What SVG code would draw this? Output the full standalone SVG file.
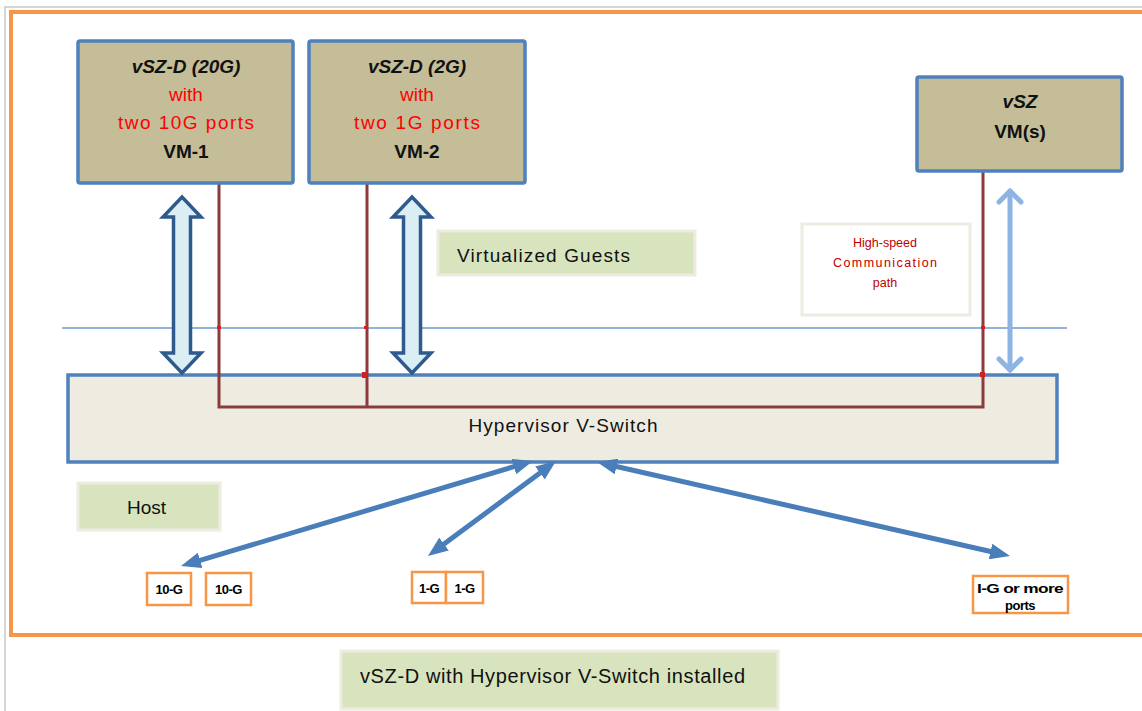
<svg xmlns="http://www.w3.org/2000/svg" width="1142" height="711" viewBox="0 0 1142 711">
<defs>
<style>
text{font-family:"Liberation Sans",Arial,sans-serif;}
.vm{fill:#C4BD97;stroke:#4F81BD;stroke-width:3.5;}
.lbl{fill:#D7E4BD;stroke:#EEECE1;stroke-width:3;}
.port{fill:#FFFFFF;stroke:#F79646;stroke-width:2.5;}
.t{font-size:19px;fill:#111;text-anchor:middle;}
.bi{font-weight:bold;font-style:italic;}
.b{font-weight:bold;}
.red{fill:#FF0000;}
.pt{font-size:13px;font-weight:bold;fill:#000;text-anchor:middle;letter-spacing:-0.5px;}
.brown{stroke:#8C3A3A;stroke-width:3;fill:none;}
.blk{fill:#DBEEF4;stroke:#2F5A8E;stroke-width:3.5;stroke-linejoin:miter;}
.diag{stroke:#4A7EBB;stroke-width:5;fill:none;marker-start:url(#ah);marker-end:url(#ah);}
</style>
<marker id="ah" viewBox="0 0 20 16" refX="8" refY="8" markerWidth="20" markerHeight="16" markerUnits="userSpaceOnUse" orient="auto-start-reverse">
<path d="M0,0 L20,8 L0,16 Z" fill="#4A7EBB"/>
</marker>
</defs>
<rect x="0" y="0" width="1142" height="711" fill="#FFFFFF"/>
<path d="M5,711 L5,7 L1142,7" fill="none" stroke="#C8C8C8" stroke-width="1.5"/>
<path d="M1145,12 L11,12 L11,635 L1145,635" fill="none" stroke="#F79646" stroke-width="4"/>
<line x1="62" y1="328" x2="1067" y2="328" stroke="#6F9AD0" stroke-width="1.3"/>

<g id="hypervisor">
<rect x="68" y="375" width="989" height="87" fill="#EEECE1" stroke="#4F81BD" stroke-width="3.5"/>
<text x="563" y="432" class="t" textLength="189" lengthAdjust="spacing">Hypervisor V-Switch</text>
</g>

<g id="connectors">
<path class="brown" d="M219,183 L219,407 L983,407 L983,171 M367,183 L367,407"/>
<rect x="217" y="326" width="4" height="3" fill="#D02020"/>
<rect x="364" y="326" width="4" height="3" fill="#D02020"/>
<rect x="362" y="372" width="5" height="6" fill="#D02020"/>
<rect x="981" y="326" width="4" height="3" fill="#D02020"/>
<rect x="980" y="372" width="5" height="5" fill="#D02020"/>
<path class="blk" d="M182,197 L201,217 L190.5,217 L190.5,353 L201,353 L182,373 L163,353 L173.5,353 L173.5,217 L163,217 Z"/>
<path class="blk" d="M412,197 L431,217 L420.5,217 L420.5,353 L431,353 L412,373 L393,353 L403.5,353 L403.5,217 L393,217 Z"/>
<g stroke="#8DB4E2" stroke-width="5" fill="none" stroke-linecap="round" stroke-linejoin="round">
<path d="M1010,191 L1010,370"/>
<path d="M999,202 L1010,191 L1021,202"/>
<path d="M999,359 L1010,370 L1021,359"/>
</g>
<path class="diag" d="M521.5,464.4 L192.5,562.6"/>
<path class="diag" d="M546.4,468.2 L437.6,548.8"/>
<path class="diag" d="M608.7,464.7 L998.3,553.3"/>
</g>

<g id="vm1">
<rect class="vm" x="78" y="41" width="215" height="142" rx="2"/>
<text x="186" y="73" class="t bi">vSZ-D (20G)</text>
<text x="186" y="101" class="t red">with</text>
<text x="186" y="129" class="t red" textLength="136" lengthAdjust="spacing">two 10G ports</text>
<text x="186" y="158" class="t b">VM-1</text>
</g>

<g id="vm2">
<rect class="vm" x="309" y="41" width="216" height="142" rx="2"/>
<text x="417" y="73" class="t bi">vSZ-D (2G)</text>
<text x="417" y="101" class="t red">with</text>
<text x="417" y="129" class="t red" textLength="126" lengthAdjust="spacing">two 1G ports</text>
<text x="417" y="158" class="t b">VM-2</text>
</g>

<g id="vsz">
<rect class="vm" x="917" y="77" width="205" height="94" rx="2"/>
<text x="1020" y="108" class="t bi">vSZ</text>
<text x="1020" y="138" class="t b">VM(s)</text>
</g>

<g id="virtualized-guests">
<rect class="lbl" x="438" y="231" width="257" height="44"/>
<text x="457" y="262" font-size="19" fill="#111" textLength="173" lengthAdjust="spacing">Virtualized Guests</text>
</g>

<g id="high-speed">
<rect x="802" y="224" width="168" height="91" fill="#FFFFFF" stroke="#EEECE1" stroke-width="3"/>
<g font-size="12.5" fill="#C00000" text-anchor="middle">
<text x="885" y="247">High-speed</text>
<text x="885" y="267" textLength="104" lengthAdjust="spacing">Communication</text>
<text x="885" y="287">path</text>
</g>
</g>

<g id="host">
<rect class="lbl" x="78" y="483" width="142" height="47"/>
<text x="127" y="514" font-size="19" fill="#111">Host</text>
</g>

<g id="port-10g-1">
<rect class="port" x="147" y="573" width="44" height="32"/>
<text x="169" y="594" class="pt">10-G</text>
</g>
<g id="port-10g-2">
<rect class="port" x="206" y="573" width="45" height="32"/>
<text x="228.5" y="594" class="pt">10-G</text>
</g>
<g id="port-1g-1">
<rect class="port" x="412" y="572" width="34" height="31"/>
<text x="429" y="593" class="pt">1-G</text>
</g>
<g id="port-1g-2">
<rect class="port" x="446" y="572" width="37" height="31"/>
<text x="464.5" y="593" class="pt">1-G</text>
</g>
<g id="port-more">
<rect class="port" x="973" y="576" width="95" height="37"/>
<text x="1020" y="593" class="pt" textLength="86" lengthAdjust="spacingAndGlyphs">I-G or more</text>
<text x="1020" y="610" class="pt">ports</text>
</g>

<g id="caption">
<rect class="lbl" x="341" y="651" width="437" height="58"/>
<text x="360" y="683" font-size="20" fill="#111" textLength="385" lengthAdjust="spacing">vSZ-D with Hypervisor V-Switch installed</text>
</g>
</svg>
